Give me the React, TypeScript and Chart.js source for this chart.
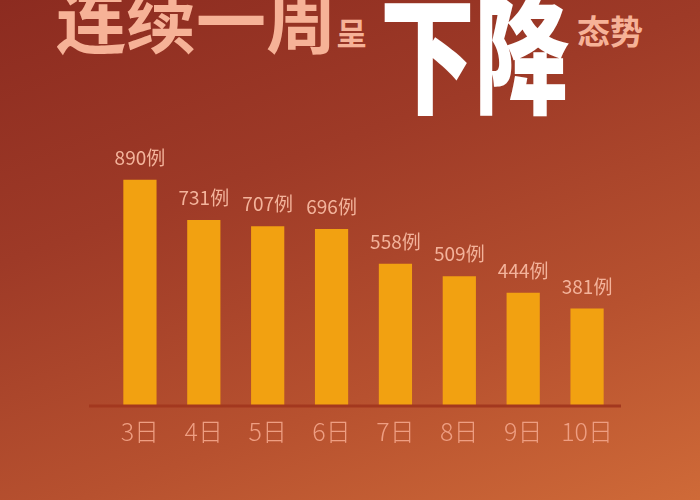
import React, { useEffect, useRef } from "react";
import { Chart, registerables } from "chart.js";

Chart.register(...registerables);

const categories = ["3日", "4日", "5日", "6日", "7日", "8日", "9日", "10日"];
const cases = [890, 731, 707, 696, 558, 509, 444, 381];
const valueSuffix = "例";
const titleMain = "连续一周";
const titleMid = "呈";
const titleBig = "下降";
const titleEnd = "态势";

const FONT = '"Noto Sans CJK SC", "Noto Sans", sans-serif';

const baselinePlugin = {
  id: "baseline",
  afterDatasetsDraw(chart: any) {
    const { ctx, chartArea, scales } = chart;
    const y = scales.y.getPixelForValue(0);
    ctx.save();
    ctx.strokeStyle = "#A3381F";
    ctx.lineWidth = 3;
    ctx.beginPath();
    ctx.moveTo(chartArea.left - 19, y + 1);
    ctx.lineTo(chartArea.right + 2, y + 1);
    ctx.stroke();
    ctx.restore();
  },
};

const valueLabelPlugin = {
  id: "valueLabels",
  afterDatasetsDraw(chart: any) {
    const { ctx } = chart;
    const meta = chart.getDatasetMeta(0);
    const data = chart.data.datasets[0].data as number[];
    ctx.save();
    ctx.fillStyle = "#F3B39B";
    ctx.font = `400 19px ${FONT}`;
    ctx.textAlign = "center";
    ctx.textBaseline = "alphabetic";
    meta.data.forEach((bar: any, i: number) => {
      ctx.fillText(`${data[i]}${valueSuffix}`, bar.x, bar.y - 15);
    });
    ctx.restore();
  },
};

export default function App() {
  const canvasRef = useRef<HTMLCanvasElement | null>(null);

  useEffect(() => {
    const canvas = canvasRef.current;
    if (!canvas) return;
    const chart = new Chart(canvas, {
      type: "bar",
      data: {
        labels: categories,
        datasets: [
          {
            data: cases,
            backgroundColor: "#F2A111",
            borderWidth: 0,
            categoryPercentage: 1,
            barPercentage: 0.52,
          },
        ],
      },
      options: {
        responsive: false,
        animation: false,
        layout: { padding: { left: 108, right: 81, top: 152, bottom: 43 } },
        plugins: {
          legend: { display: false },
          tooltip: { enabled: false },
          title: { display: false },
        },
        scales: {
          y: { display: false, min: 0, max: 1000 },
          x: {
            grid: { display: false, drawTicks: false },
            border: { display: false },
            ticks: {
              color: "#EE9E82",
              font: { family: FONT, size: 25, weight: 300 as any },
              padding: 11,
            },
          },
        },
      },
      plugins: [baselinePlugin, valueLabelPlugin],
    });
    return () => chart.destroy();
  }, []);

  const base: React.CSSProperties = {
    position: "absolute",
    whiteSpace: "nowrap",
    lineHeight: 1,
    fontFamily: FONT,
    fontWeight: 700,
    margin: 0,
  };

  return (
    <div
      style={{
        position: "fixed",
        left: 0,
        top: 0,
        width: 700,
        height: 500,
        overflow: "hidden",
        background:
          "linear-gradient(160deg, #8C2B20 0%, #9E3A27 35%, #B7512F 70%, #CF6A38 100%)",
      }}
    >
      <div style={{ ...base, left: 56, top: -17, fontSize: 70, color: "#F6B297" }}>
        {titleMain}
      </div>
      <div style={{ ...base, left: 336, top: 16, fontSize: 31, color: "#F6B297" }}>
        {titleMid}
      </div>
      <div
        style={{
          ...base,
          left: 380,
          top: -15,
          fontSize: 128,
          fontWeight: 900,
          color: "#FFFFFF",
          transform: "scaleX(0.74)",
          transformOrigin: "left top",
        }}
      >
        {titleBig}
      </div>
      <div style={{ ...base, left: 577, top: 14, fontSize: 33, color: "#F6B297" }}>
        {titleEnd}
      </div>
      <canvas
        ref={canvasRef}
        width={700}
        height={500}
        style={{ position: "absolute", left: 0, top: 0, width: 700, height: 500 }}
      />
    </div>
  );
}
